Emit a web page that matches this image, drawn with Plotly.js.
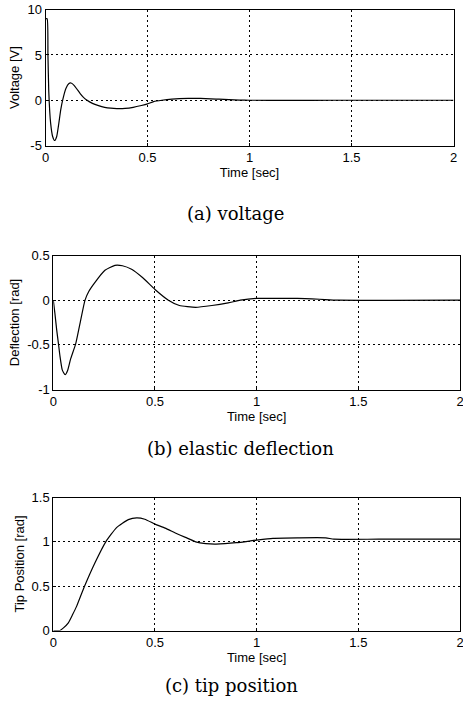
<!DOCTYPE html>
<html>
<head>
<meta charset="utf-8">
<script src="https://cdn.plot.ly/plotly-3.0.1.min.js"></script>
<style>
html,body{margin:0;padding:0;background:#fff;}
#chart{width:463px;height:706px;}
</style>
</head>
<body>
<div id="chart"></div>
<script>
// (a) voltage
const tVolt = [0, 0.008, 0.012, 0.016, 0.025, 0.035, 0.045, 0.055, 0.065, 0.075, 0.085, 0.1, 0.115, 0.125, 0.14, 0.155, 0.17, 0.185, 0.2, 0.23, 0.26, 0.29, 0.32, 0.35, 0.39, 0.43, 0.47, 0.5, 0.53, 0.57, 0.62, 0.7, 0.76, 0.85, 0.95, 1.0, 1.2, 1.4, 2.0];
const volt  = [9.0, 9.0, 5.0, 1.0, -2.5, -4.0, -4.45, -4.0, -2.6, -1.0, 0.1, 1.3, 1.85, 1.9, 1.65, 1.2, 0.74, 0.35, 0.05, -0.35, -0.6, -0.78, -0.88, -0.92, -0.9, -0.78, -0.58, -0.4, -0.15, 0.0, 0.12, 0.2, 0.2, 0.12, 0.02, 0.0, -0.01, 0.0, 0.0];

// (b) elastic deflection
const tDefl = [0, 0.008, 0.0165, 0.025, 0.033, 0.044, 0.058, 0.07, 0.085, 0.11, 0.135, 0.156, 0.175, 0.205, 0.254, 0.303, 0.34, 0.385, 0.44, 0.5, 0.566, 0.62, 0.7, 0.78, 0.86, 0.92, 1.0, 1.1, 1.2, 1.31, 1.4, 2.0];
const defl  = [0, -0.15, -0.33, -0.48, -0.63, -0.78, -0.835, -0.79, -0.66, -0.49, -0.22, 0.0, 0.1, 0.2, 0.335, 0.39, 0.385, 0.345, 0.25, 0.12, 0.0, -0.06, -0.08, -0.06, -0.03, 0.0, 0.02, 0.02, 0.02, 0.01, 0.0, 0.0];

// (c) tip position
const tTip = [0, 0.02, 0.033, 0.05, 0.074, 0.095, 0.115, 0.152, 0.205, 0.258, 0.311, 0.369, 0.41, 0.45, 0.5, 0.55, 0.6, 0.65, 0.7, 0.75, 0.8, 0.9, 1.0, 1.08, 1.2, 1.34, 1.38, 1.6, 2.0];
const tip  = [0, 0, 0.0, 0.03, 0.087, 0.18, 0.275, 0.49, 0.764, 1.0, 1.16, 1.25, 1.27, 1.255, 1.2, 1.155, 1.1, 1.05, 1.0, 0.98, 0.975, 0.99, 1.02, 1.04, 1.045, 1.045, 1.03, 1.03, 1.03];

const xTickVals = [0, 0.5, 1, 1.5, 2];
const xTickText = ['0', '0.5', '1', '1.5', '2'];
const yTickValsA = [-5, 0, 5, 10];
const yTickTextA = ['-5', '0', '5', '10'];
const yTickValsB = [-1, -0.5, 0, 0.5];
const yTickTextB = ['-1', '-0.5', '0', '0.5'];
const yTickValsC = [0, 0.5, 1, 1.5];
const yTickTextC = ['0', '0.5', '1', '1.5'];

const W = 463, H = 706;
const px = v => v / W;
const py = v => 1 - v / H;

const sans = {family: 'Liberation Sans, Arial, sans-serif', size: 13, color: '#000'};

function xax(dom, anchor) {
  return {
    domain: dom, anchor: anchor, range: [0, 2],
    tickmode: 'array', tickvals: xTickVals, ticktext: xTickText,
    showline: true, mirror: true, linecolor: '#000', linewidth: 1,
    showgrid: true, gridcolor: '#000', gridwidth: 1, griddash: '2px,3px',
    zeroline: false, ticks: 'inside', ticklen: 3, tickcolor: '#000',
    tickfont: sans, automargin: false, ticklabeloverflow: 'allow',
    title: {text: 'Time [sec]', font: sans, standoff: 2}
  };
}
function yax(dom, anchor, range, vals, text, title) {
  return {
    domain: dom, anchor: anchor, range: range,
    tickmode: 'array', tickvals: vals, ticktext: text,
    showline: true, mirror: true, linecolor: '#000', linewidth: 1,
    showgrid: true, gridcolor: '#000', gridwidth: 1, griddash: '2px,3px',
    zeroline: false, ticks: 'inside', ticklen: 3, tickcolor: '#000',
    tickfont: sans, automargin: false, ticklabeloverflow: 'allow',
    title: {text: title, font: sans, standoff: 4}
  };
}

const line = {color: '#000', width: 1.2, shape: 'spline', smoothing: 0.5};

const traces = [
  {x: tVolt, y: volt, xaxis: 'x', yaxis: 'y', mode: 'lines', line: line, hoverinfo: 'skip'},
  {x: tDefl, y: defl, xaxis: 'x2', yaxis: 'y2', mode: 'lines', line: line, hoverinfo: 'skip'},
  {x: tTip, y: tip, xaxis: 'x3', yaxis: 'y3', mode: 'lines', line: line, hoverinfo: 'skip'}
];

const serif = {family: 'DejaVu Serif, serif', size: 18, color: '#000'};

const layout = {
  width: W, height: H,
  margin: {l: 0, r: 0, t: 0, b: 0},
  paper_bgcolor: '#fff', plot_bgcolor: '#fff',
  showlegend: false,
  xaxis: xax([px(45.5), px(453.5)], 'y'),
  yaxis: yax([py(145.5), py(9.7)], 'x', [-5, 10], yTickValsA, yTickTextA, 'Voltage [V]'),
  xaxis2: xax([px(53.3), px(460)], 'y2'),
  yaxis2: yax([py(389.5), py(255.5)], 'x2', [-1, 0.5], yTickValsB, yTickTextB, 'Deflection [rad]'),
  xaxis3: xax([px(53.3), px(460)], 'y3'),
  yaxis3: yax([py(630.5), py(497.5)], 'x3', [0, 1.5], yTickValsC, yTickTextC, 'Tip Position [rad]'),
  annotations: [
    {text: '(a) voltage', xref: 'paper', yref: 'paper', x: px(235), y: py(213), xanchor: 'center', yanchor: 'middle', showarrow: false, font: serif},
    {text: '(b) elastic deflection', xref: 'paper', yref: 'paper', x: px(240), y: py(449), xanchor: 'center', yanchor: 'middle', showarrow: false, font: serif},
    {text: '(c) tip position', xref: 'paper', yref: 'paper', x: px(232), y: py(685), xanchor: 'center', yanchor: 'middle', showarrow: false, font: serif}
  ]
};

Plotly.newPlot('chart', traces, layout, {staticPlot: true, displayModeBar: false});
</script>
</body>
</html>
